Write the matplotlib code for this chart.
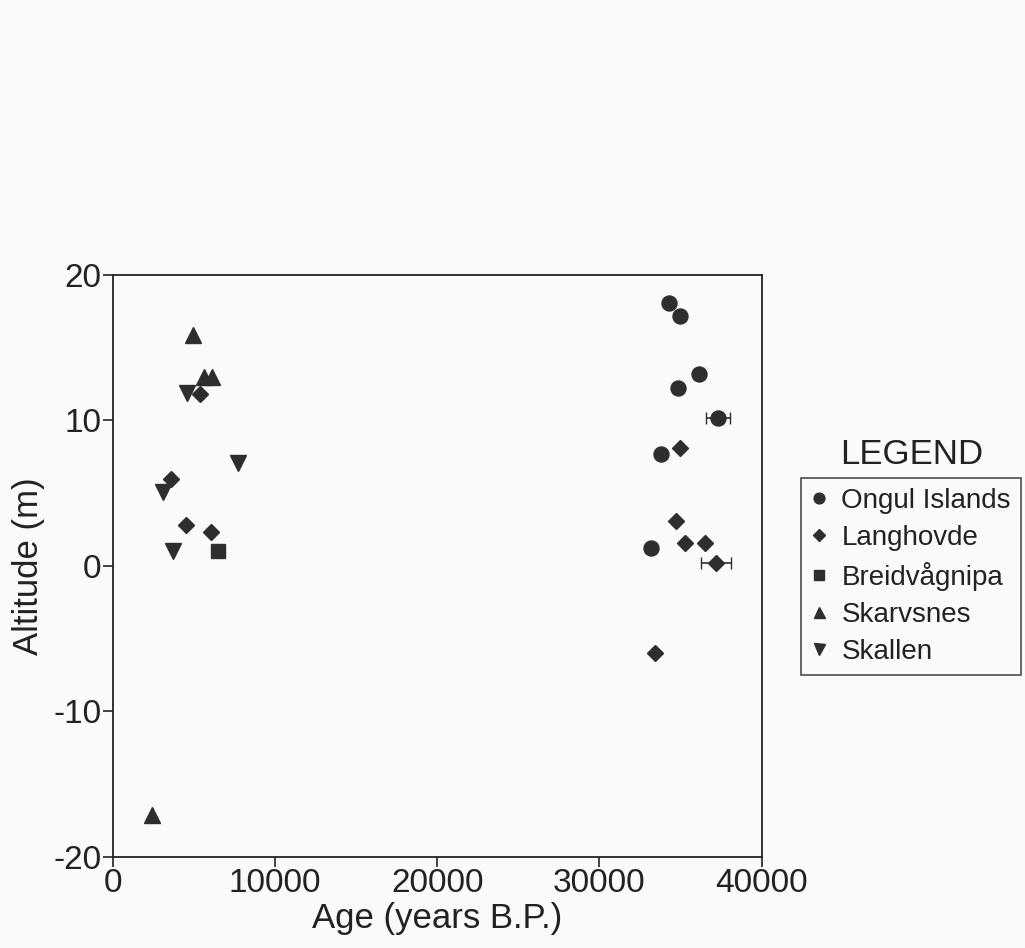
import matplotlib
matplotlib.use("Agg")
import matplotlib.pyplot as plt
from matplotlib.lines import Line2D

plt.rcParams['font.family'] = ['Liberation Sans', 'DejaVu Sans']
plt.rcParams['axes.unicode_minus'] = False

# data (age in years B.P., altitude in m)
ongul_age = [34280, 35000, 36150, 34860, 37300, 33770, 33210]
ongul_alt = [18.1, 17.2, 13.2, 12.2, 10.2, 7.7, 1.2]
ongul_err = [0, 0, 0, 0, 750, 0, 0]

lang_age = [5370, 3620, 4510, 6070, 34960, 34750, 35250, 36500, 37200, 33410]
lang_alt = [11.8, 6.0, 2.8, 2.3, 8.1, 3.1, 1.6, 1.6, 0.2, -6.0]
lang_err = [0, 0, 0, 0, 0, 0, 0, 0, 930, 0]

breid_age = [6460]
breid_alt = [1.05]

skarv_age = [4920, 5640, 6090, 2430]
skarv_alt = [15.9, 13.0, 13.0, -17.1]

skallen_age = [4590, 7700, 3070, 3720]
skallen_alt = [11.9, 7.1, 5.1, 1.0]

names = ['Ongul Islands', 'Langhovde', 'Breidvågnipa', 'Skarvsnes', 'Skallen']
markers = ['o', 'D', 's', '^', 'v']
sizes = [10.8, 7.8, 10.5, 11, 11]

col = '#2e2e2e'
txt = '#222222'
bg = '#fafafa'

fig = plt.figure(figsize=(10.25, 9.48), dpi=100, facecolor=bg)
ax = fig.add_axes([0.110, 0.096, 0.633, 0.614], facecolor=bg)

ax.errorbar(ongul_age, ongul_alt, xerr=ongul_err, fmt=markers[0], ms=sizes[0],
            color=col, ecolor=col, elinewidth=1.2, capsize=4)
ax.errorbar(lang_age, lang_alt, xerr=lang_err, fmt=markers[1], ms=sizes[1],
            color=col, ecolor=col, elinewidth=1.2, capsize=4)
ax.plot(breid_age, breid_alt, markers[2], ms=sizes[2], color=col)
ax.plot(skarv_age, skarv_alt, markers[3], ms=sizes[3], color=col)
ax.plot(skallen_age, skallen_alt, markers[4], ms=sizes[4], color=col)

ax.set_xlim(0, 40000)
ax.set_ylim(-20, 20)
ax.set_xticks([0, 10000, 20000, 30000, 40000])
ax.set_yticks([-20, -10, 0, 10, 20])
ax.tick_params(direction='out', length=7, width=1.2, pad=1, labelsize=24,
               colors=txt)
for s in ax.spines.values():
    s.set_linewidth(1.3)
    s.set_color(txt)

ax.set_xlabel('Age (years B.P.)', fontsize=25, color=txt, labelpad=2)
ax.set_ylabel('Altitude (m)', fontsize=25, color=txt, labelpad=6)

# legend handles without the error bars
handles = [Line2D([], [], linestyle='none', marker=m, ms=s * 0.72, color=col)
           for m, s in zip(markers, sizes)]
leg = fig.legend(handles, names, loc='upper left',
                 bbox_to_anchor=(801 / 1025, 1 - 478 / 948),
                 fontsize=20, frameon=True, fancybox=False,
                 handlelength=0.6, handletextpad=0.5, labelspacing=0.4,
                 borderpad=0.35, borderaxespad=0)
leg.get_frame().set_edgecolor(txt)
leg.get_frame().set_linewidth(1.2)
leg.get_frame().set_facecolor(bg)
for t in leg.get_texts():
    t.set_color(txt)

fig.text(912 / 1025, 1 - 455 / 948, 'LEGEND', fontsize=25, ha='center',
         va='center', color=txt)

fig.savefig('out.png', dpi=100, facecolor=bg)
